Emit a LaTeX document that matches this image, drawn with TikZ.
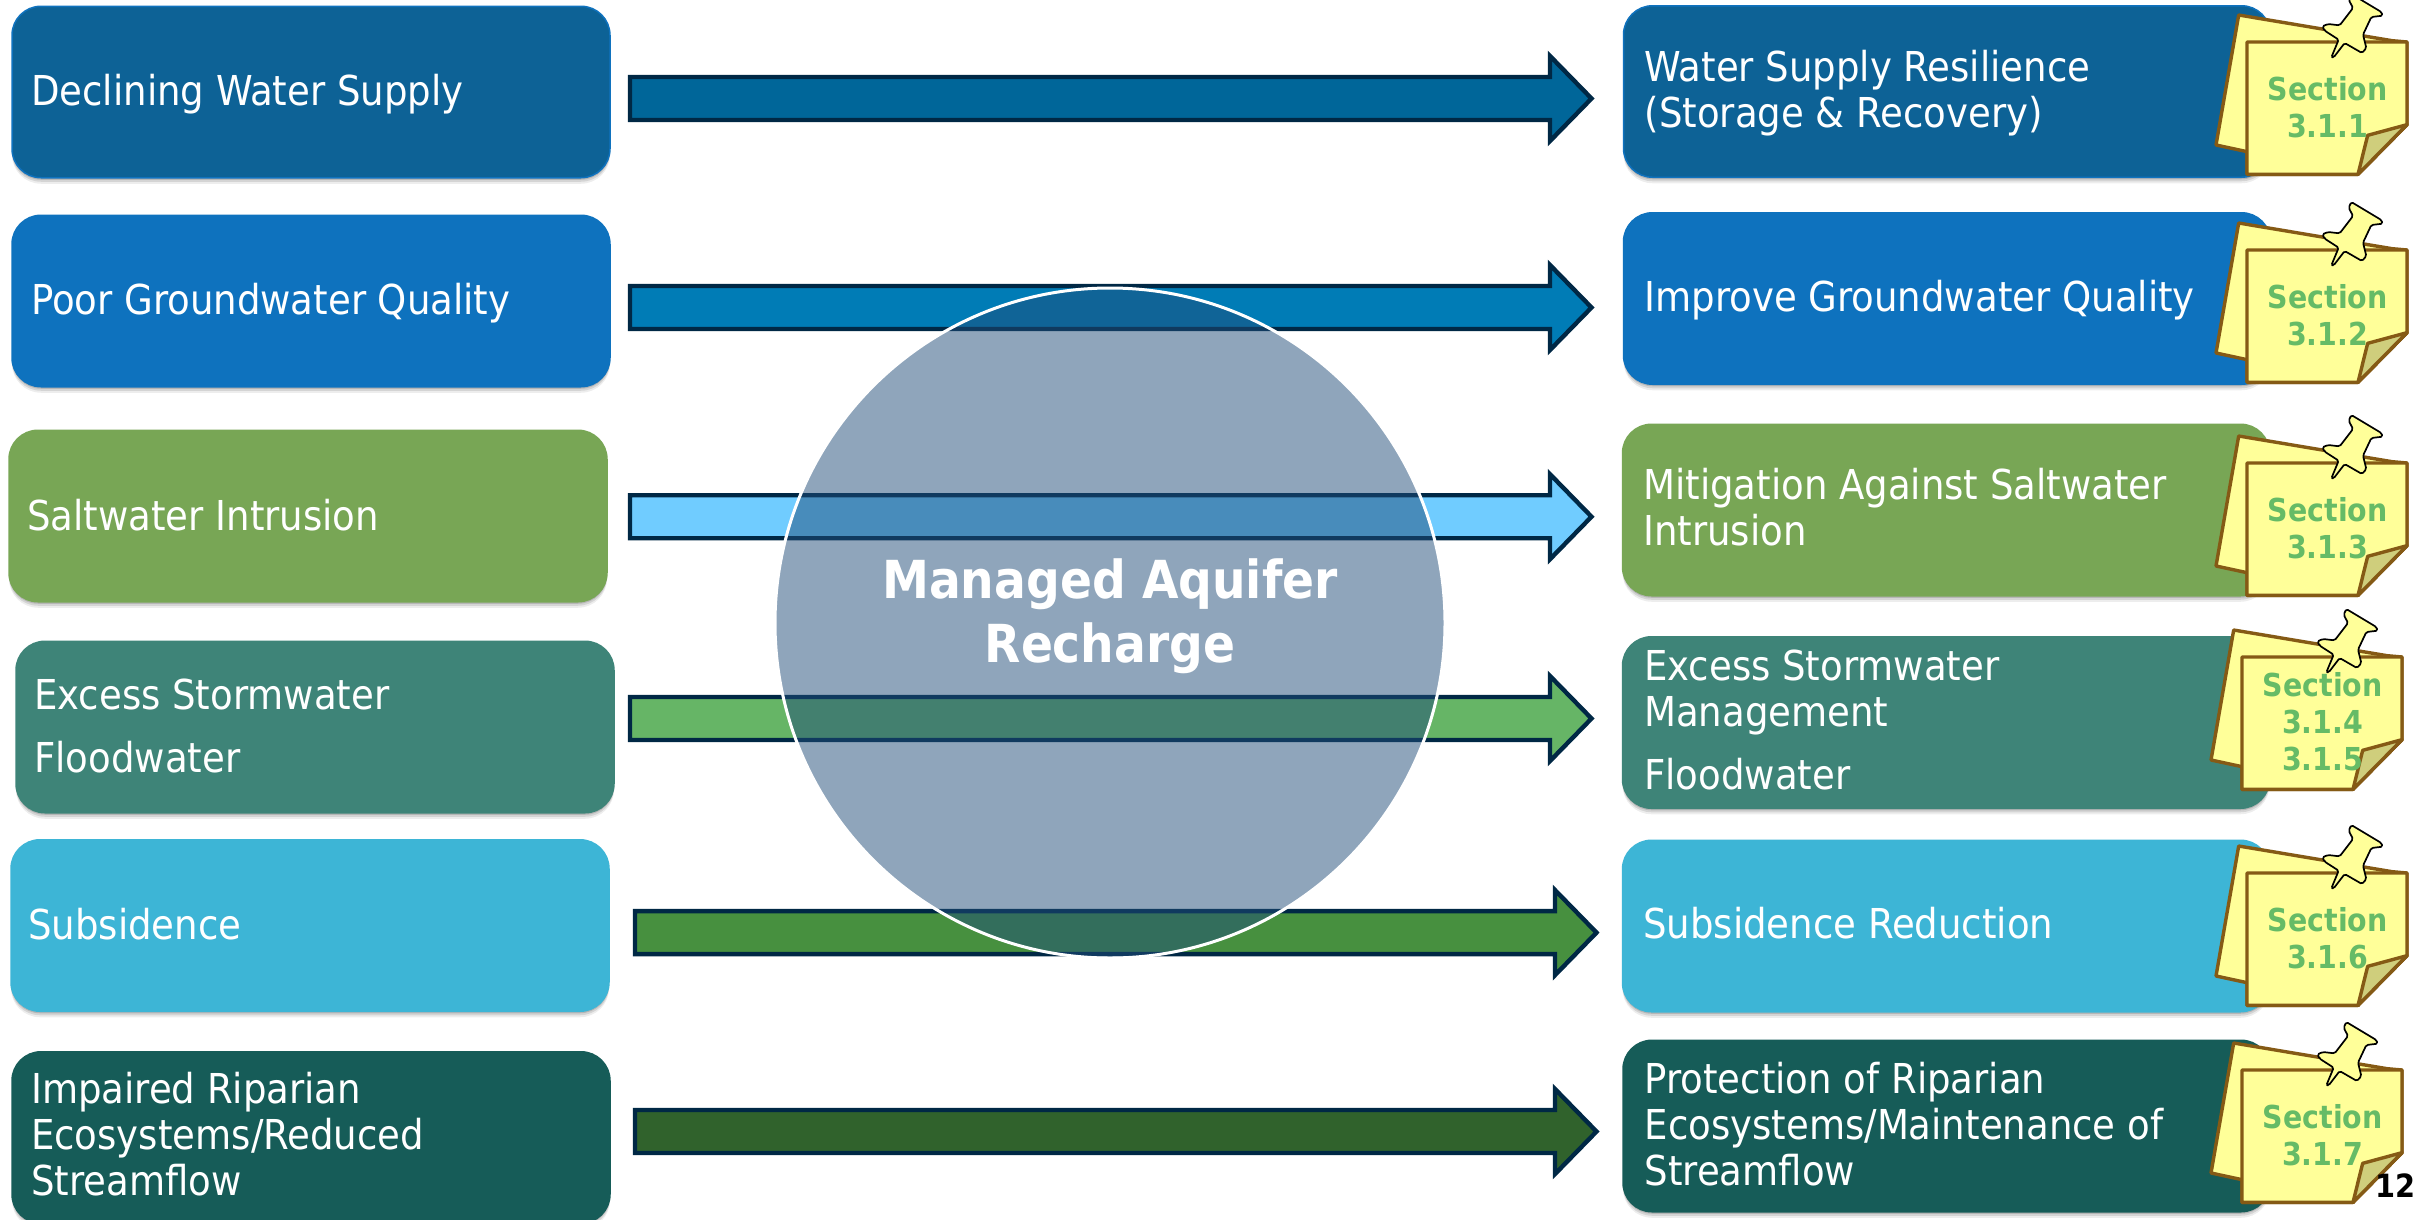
\documentclass[tikz,border=0pt]{standalone}
\usepackage{fontspec}
\setmainfont{DejaVu Sans Condensed}[BoldFont={DejaVu Sans Condensed Bold}]
\usetikzlibrary{shadows}
\definecolor{cA}{HTML}{0D6296}
\definecolor{cAe}{HTML}{0F72BE}
\definecolor{cB}{HTML}{0E72BE}
\definecolor{cC}{HTML}{78A655}
\definecolor{cD}{HTML}{3E8478}
\definecolor{cE}{HTML}{3DB5D6}
\definecolor{cF}{HTML}{165C58}
\definecolor{aA}{HTML}{006699}
\definecolor{aB}{HTML}{007CB6}
\definecolor{aC}{HTML}{70CCFF}
\definecolor{aD}{HTML}{66B566}
\definecolor{aE}{HTML}{47903F}
\definecolor{aF}{HTML}{30622C}
\definecolor{navy}{HTML}{002845}
\definecolor{disc}{HTML}{214D79}
\definecolor{paper}{HTML}{FFFF99}
\definecolor{paperline}{HTML}{855A15}
\definecolor{foldc}{HTML}{CFCE7C}
\definecolor{secgreen}{HTML}{66BB66}
\tikzset{
  x=1pt,y=-1pt,
  tbox/.style={rounded corners=29pt,inner sep=0pt,outer sep=0pt,
    minimum height=171.5pt,anchor=center,line width=1.5pt,
    general shadow={fill=black,opacity=.07,shadow yshift=-6pt},
    general shadow={fill=black,opacity=.10,shadow yshift=-4pt},
    general shadow={fill=black,opacity=.14,shadow yshift=-2pt}},
  lbox/.style={tbox,minimum width=598pt},
  rbox/.style={tbox,minimum width=647pt},
  boxtext/.style={anchor=west,inner sep=0pt,text=white,align=left,
    font=\fontsize{41.2}{46}\selectfont},
  barrowline/.style={draw=navy,line width=4.4pt,miter limit=10},
  sheet/.style={draw=paperline,fill=paper,line width=3.4pt,line join=round},
  pinshape/.style={draw=black,fill=paper,line width=1.7pt,line join=round,rounded corners=1.6pt},
  seclabel/.style={text=secgreen,font=\fontsize{31.6}{37}\selectfont\bfseries,inner sep=0pt,align=center}
}
% #1 start x, #2 tip x, #3 centre y, #4 colour
\newcommand{\blockarrow}[4]{%
  \draw[barrowline,fill=#4] (#1,#3-21.5) -- (#2-41.5,#3-21.5) -- (#2-41.5,#3-42.5) -- (#2,#3)
    -- (#2-41.5,#3+42.5) -- (#2-41.5,#3+21.5) -- (#1,#3+21.5) -- cycle;}
% #1 name, #2 x, #3 y, #4 text
\newcommand{\stickynote}[4]{%
  \begin{scope}[shift={(#2,#3)},x=0.3333pt,y=-0.3333pt]
    \draw[sheet] (-25,-81) -- (435,-4) -- (480,0) -- (480,248) -- (333,397) -- (0,397) -- (0,329) -- (-93,309) -- cycle;
    \draw[sheet] (0,0) -- (480,0) -- (480,248) -- (333,397) -- (0,397) -- cycle;
    \draw[sheet,fill=foldc] (480,248) -- (362,280) -- (333,397) -- cycle;
    \draw[pinshape] (253,46) -- (275,-7) -- (233,-34) -- (226,-47) -- (243,-54) -- (278,-50)
      -- (318,-102) -- (305,-127) -- (313,-144) -- (403,-90) -- (407,-79) -- (373,-75)
      -- (348,-22) -- (358,18) -- (345,33) -- (293,3) -- (260,46) -- cycle;
    \node[seclabel] (#1) at (242,195) {#4};
  \end{scope}}
\begin{document}
\begin{tikzpicture}
\useasboundingbox (0,0) rectangle (2417,1219);
\fill[white] (0,0) rectangle (2417,1219);
% left boxes
\node[lbox,fill=cA,draw=cAe] (L1) at (311,92) {};
\node[lbox,fill=cB,draw=cB] (L2) at (311,301) {};
\node[lbox,fill=cC,draw=cC] (L3) at (308,516) {};
\node[lbox,fill=cD,draw=cD] (L4) at (315,727) {};
\node[lbox,fill=cE,draw=cE] (L5) at (310,925.5) {};
\node[lbox,fill=cF,draw=cF] (L6) at (311,1137.5) {};
% right boxes
\node[rbox,fill=cA,draw=cAe] (R1) at (1947,91.5) {};
\node[rbox,fill=cB,draw=cB] (R2) at (1947,298.5) {};
\node[rbox,fill=cC,draw=cC] (R3) at (1946,510) {};
\node[rbox,fill=cD,draw=cD] (R4) at (1946,722.5) {};
\node[rbox,fill=cE,draw=cE] (R5) at (1946,926) {};
\node[rbox,fill=cF,draw=cF] (R6) at (1946.5,1126) {};
% box texts
\node[boxtext] (L1t) at (31,94) {Declining Water Supply};
\node[boxtext] (L2t) at (31,303) {Poor Groundwater Quality};
\node[boxtext] (L3t) at (27,515) {Saltwater Intrusion};
\node[boxtext] (L4t) at (34,726) {Excess Stormwater\\[17pt]Floodwater};
\node[boxtext] (L5t) at (28,924.5) {Subsidence};
\node[boxtext] (L6t) at (31,1134) {Impaired Riparian\\Ecosystems/Reduced\\Streamflow};
\node[boxtext] (R1t) at (1644.5,93.5) {Water Supply Resilience\\(Storage \& Recovery)};
\node[boxtext] (R2t) at (1644.5,300.5) {Improve Groundwater Quality};
\node[boxtext] (R3t) at (1643,507.5) {Mitigation Against Saltwater\\Intrusion};
\node[boxtext] (R4t) at (1644,720) {Excess Stormwater\\Management\\[17pt]Floodwater};
\node[boxtext] (R5t) at (1643,923.5) {Subsidence Reduction};
\node[boxtext] (R6t) at (1644.5,1124) {Protection of Riparian\\Ecosystems/Maintenance of\\Streamflow};
% block arrows
\blockarrow{630}{1591.5}{98.5}{aA}
\blockarrow{630}{1591.5}{307.5}{aB}
\blockarrow{630}{1591.5}{516.7}{aC}
\blockarrow{630}{1591.5}{718.5}{aD}
\blockarrow{635}{1596.5}{932.6}{aE}
\blockarrow{635}{1596.5}{1131.5}{aF}
% centre disc
\fill[disc,fill opacity=.5] (1110,623) circle[radius=335];
\draw[white,line width=3pt] (1110,623) circle[radius=335];
\node[text=white,align=center,inner sep=0pt,font=\fontsize{52.4}{64}\selectfont\bfseries] (mar) at (1110,616.5) {Managed Aquifer\\Recharge};
% notes
\stickynote{n1}{2247}{42}{Section\\3.1.1}
\stickynote{n2}{2247}{250}{Section\\3.1.2}
\stickynote{n3}{2247}{463}{Section\\3.1.3}
\stickynote{n4}{2242}{657}{Section\\3.1.4\\3.1.5}
\stickynote{n5}{2247}{873}{Section\\3.1.6}
\stickynote{n6}{2242}{1070}{Section\\3.1.7}
\node[anchor=base east,inner sep=0pt,text=black,font=\fontsize{32}{34}\selectfont\bfseries] (pg) at (2416,1197) {12};
\end{tikzpicture}
\end{document}
